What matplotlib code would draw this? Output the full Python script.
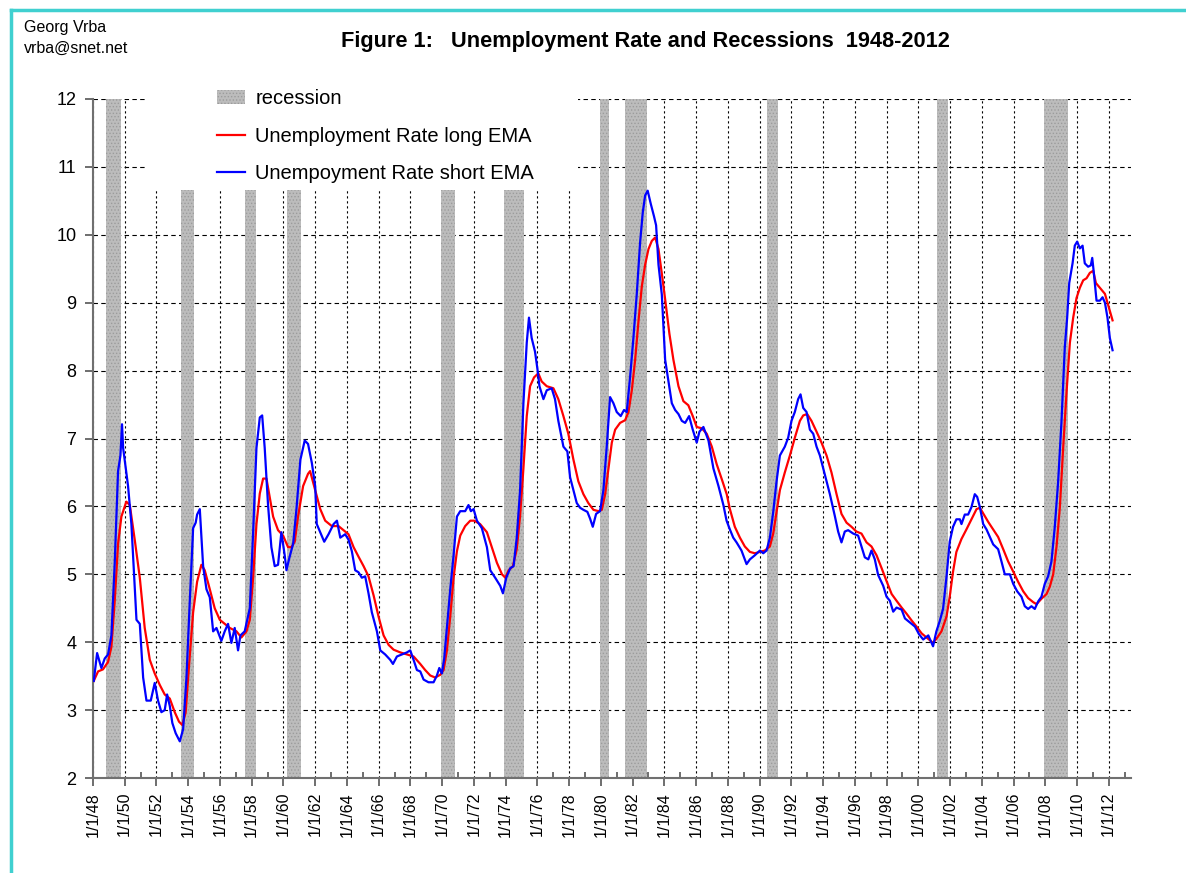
import matplotlib
matplotlib.use("Agg")
import matplotlib.pyplot as plt
from matplotlib.patches import Rectangle, Patch
from matplotlib.lines import Line2D

plt.rcParams['font.family'] = ['Liberation Sans', 'DejaVu Sans']
plt.rcParams['hatch.linewidth'] = 0.6

# recessions (decimal years)
rec_start = [1948.83, 1953.52, 1957.55, 1960.25, 1969.95, 1973.88, 1979.95, 1981.52, 1990.48, 2001.18, 2007.9]
rec_end = [1949.75, 1954.36, 1958.27, 1961.1, 1970.84, 1975.17, 1980.5, 1982.88, 1991.19, 2001.88, 2009.42]

# Unemployment rate short EMA (blue)
short_years = [
    1948.05, 1948.26, 1948.53, 1948.74, 1948.95, 1949.16, 1949.37, 1949.58, 1949.73, 1949.83,
    1949.9, 1950.21, 1950.42, 1950.74, 1950.95, 1951.16, 1951.37, 1951.64, 1951.89, 1952.1,
    1952.31, 1952.52, 1952.67, 1952.84, 1953.0, 1953.21, 1953.47, 1953.68, 1953.89, 1954.1,
    1954.31, 1954.47, 1954.56, 1954.73, 1954.94, 1955.15, 1955.36, 1955.57, 1955.78, 1956.09,
    1956.3, 1956.51, 1956.72, 1956.93, 1957.14, 1957.29, 1957.56, 1957.88, 1958.09, 1958.3,
    1958.51, 1958.66, 1958.82, 1959.03, 1959.24, 1959.45, 1959.66, 1959.87, 1960.08, 1960.19,
    1960.36, 1960.61, 1960.82, 1961.07, 1961.34, 1961.55, 1961.79, 1962.0, 1962.1, 1962.32,
    1962.57, 1962.84, 1963.16, 1963.37, 1963.58, 1963.89, 1964.1, 1964.31, 1964.52, 1964.73,
    1964.94, 1965.15, 1965.36, 1965.57, 1965.89, 1966.1, 1966.41, 1966.73, 1966.9, 1967.15,
    1967.46, 1967.78, 1967.99, 1968.2, 1968.41, 1968.62, 1968.83, 1969.14, 1969.46, 1969.67,
    1969.82, 1969.98, 1970.13, 1970.3, 1970.51, 1970.72, 1970.93, 1971.14, 1971.45, 1971.66,
    1971.81, 1971.98, 1972.19, 1972.5, 1972.82, 1973.03, 1973.34, 1973.66, 1973.83, 1974.04,
    1974.29, 1974.5, 1974.7, 1974.91, 1975.12, 1975.33, 1975.47, 1975.64, 1975.85, 1976.0,
    1976.13, 1976.38, 1976.59, 1976.9, 1977.11, 1977.32, 1977.64, 1977.89, 1978.06, 1978.27,
    1978.48, 1978.69, 1978.9, 1979.15, 1979.32, 1979.49, 1979.7, 1979.95, 1980.16, 1980.37,
    1980.58, 1980.79, 1981.0, 1981.25, 1981.46, 1981.63, 1981.84, 1982.05, 1982.26, 1982.47,
    1982.64, 1982.79, 1982.95, 1983.14, 1983.35, 1983.48, 1983.63, 1983.84, 1984.05, 1984.26,
    1984.47, 1984.68, 1984.89, 1985.1, 1985.31, 1985.56, 1985.79, 1986.04, 1986.21, 1986.46,
    1986.78, 1987.09, 1987.41, 1987.72, 1987.92, 1988.13, 1988.34, 1988.55, 1988.86, 1989.18,
    1989.39, 1989.7, 1990.02, 1990.23, 1990.44, 1990.65, 1990.86, 1991.07, 1991.28, 1991.59,
    1991.8, 1992.01, 1992.22, 1992.43, 1992.58, 1992.75, 1992.96, 1993.17, 1993.38, 1993.59,
    1993.8, 1994.01, 1994.22, 1994.43, 1994.74, 1994.95, 1995.16, 1995.37, 1995.58, 1995.9,
    1996.21, 1996.42, 1996.63, 1996.85, 1997.05, 1997.26, 1997.47, 1997.79, 1998.0, 1998.21,
    1998.42, 1998.63, 1998.95, 1999.16, 1999.47, 1999.79, 2000.04, 2000.31, 2000.63, 2000.93,
    2001.14, 2001.35, 2001.56, 2001.78, 2001.98, 2002.19, 2002.4, 2002.62, 2002.72, 2002.93,
    2003.14, 2003.35, 2003.56, 2003.71, 2003.88, 2004.09, 2004.3, 2004.51, 2004.72, 2005.03,
    2005.24, 2005.45, 2005.77, 2005.98, 2006.23, 2006.5, 2006.71, 2006.92, 2007.13, 2007.34,
    2007.55, 2007.76, 2007.97, 2008.18, 2008.39, 2008.6, 2008.81, 2009.02, 2009.23, 2009.38,
    2009.51, 2009.72, 2009.86, 2010.01, 2010.18, 2010.35, 2010.49, 2010.7, 2010.87, 2010.96,
    2011.06, 2011.23, 2011.44, 2011.61, 2011.76, 2011.92, 2012.07, 2012.24,
]
short_values = [
    3.43, 3.84, 3.62, 3.76, 3.82, 4.1, 5.17, 6.52, 6.75, 7.21,
    6.86, 6.3, 5.74, 4.33, 4.27, 3.48, 3.14, 3.14, 3.4, 3.14,
    2.97, 3.0, 3.23, 3.06, 2.81, 2.66, 2.54, 2.72, 3.48, 4.61,
    5.68, 5.76, 5.88, 5.96, 5.12, 4.78, 4.66, 4.16, 4.21, 4.02,
    4.16, 4.27, 3.99, 4.21, 3.88, 4.1, 4.16, 4.5, 5.62, 6.86,
    7.31, 7.34, 6.86, 6.02, 5.4, 5.12, 5.14, 5.62, 5.28, 5.06,
    5.23, 5.45, 5.96, 6.69, 6.97, 6.92, 6.64, 6.3, 5.74, 5.62,
    5.48, 5.59, 5.74, 5.79, 5.54, 5.59, 5.51, 5.34, 5.06, 5.03,
    4.95, 4.97, 4.72, 4.44, 4.16, 3.88, 3.82, 3.74, 3.68, 3.79,
    3.82, 3.85, 3.88, 3.74, 3.59, 3.57, 3.45, 3.41, 3.41, 3.51,
    3.62, 3.54, 3.76, 4.21, 4.78, 5.28, 5.85, 5.93, 5.93, 6.02,
    5.93, 5.96, 5.79, 5.68, 5.4, 5.06, 4.95, 4.83, 4.72, 4.95,
    5.09, 5.12, 5.54, 6.24, 7.52, 8.41, 8.78, 8.48, 8.28, 8.03,
    7.77, 7.58, 7.71, 7.74, 7.58, 7.26, 6.88, 6.81, 6.43, 6.24,
    6.05, 5.98, 5.95, 5.92, 5.82, 5.7, 5.89, 5.93, 6.24, 6.88,
    7.61, 7.52, 7.39, 7.33, 7.42, 7.39, 7.9, 8.48, 9.12, 9.88,
    10.33, 10.58, 10.65, 10.46, 10.27, 10.14, 9.56, 9.12, 8.16, 7.84,
    7.52, 7.42, 7.36, 7.26, 7.23, 7.33, 7.13, 6.94, 7.1, 7.17,
    6.97, 6.56, 6.3, 6.02, 5.79, 5.66, 5.54, 5.47, 5.35, 5.15,
    5.22, 5.28, 5.35, 5.31, 5.35, 5.54, 5.92, 6.37, 6.75, 6.88,
    7.01, 7.26, 7.39, 7.58, 7.65, 7.45, 7.39, 7.13, 7.07, 6.88,
    6.75, 6.56, 6.37, 6.18, 5.86, 5.63, 5.47, 5.63, 5.65, 5.6,
    5.57, 5.41, 5.25, 5.22, 5.35, 5.22, 4.99, 4.83, 4.67, 4.61,
    4.45, 4.51, 4.48, 4.35, 4.29, 4.23, 4.12, 4.04, 4.1, 3.94,
    4.16, 4.31, 4.49, 4.97, 5.48, 5.7, 5.81, 5.81, 5.74, 5.88,
    5.88, 5.99, 6.18, 6.14, 5.99, 5.74, 5.66, 5.55, 5.44, 5.37,
    5.19, 5.0, 5.0, 4.86, 4.75, 4.67, 4.53, 4.49, 4.53, 4.49,
    4.6, 4.67, 4.86, 4.97, 5.19, 5.7, 6.36, 7.24, 8.34, 8.78,
    9.29, 9.58, 9.84, 9.9, 9.8, 9.84, 9.58, 9.53, 9.55, 9.66,
    9.44, 9.03, 9.03, 9.08, 9.0, 8.78, 8.48, 8.3,
]

# Unemployment rate long EMA (red)
long_years = [
    1948.05, 1948.32, 1948.63, 1948.95, 1949.16, 1949.37, 1949.58, 1949.79, 1950.1, 1950.32,
    1950.63, 1950.95, 1951.26, 1951.58, 1951.89, 1952.21, 1952.52, 1952.84, 1953.15, 1953.42,
    1953.63, 1953.84, 1954.05, 1954.31, 1954.56, 1954.83, 1955.04, 1955.36, 1955.67, 1955.99,
    1956.3, 1956.62, 1957.04, 1957.35, 1957.67, 1957.88, 1958.09, 1958.3, 1958.51, 1958.72,
    1958.93, 1959.14, 1959.35, 1959.66, 1959.98, 1960.29, 1960.5, 1960.71, 1960.92, 1961.24,
    1961.55, 1961.68, 1962.0, 1962.32, 1962.63, 1963.05, 1963.47, 1963.79, 1964.1, 1964.42,
    1964.73, 1965.05, 1965.36, 1965.68, 1965.99, 1966.31, 1966.63, 1966.94, 1967.36, 1967.78,
    1968.2, 1968.62, 1968.93, 1969.25, 1969.56, 1969.88, 1970.09, 1970.3, 1970.51, 1970.72,
    1970.93, 1971.14, 1971.45, 1971.77, 1972.02, 1972.39, 1972.82, 1973.13, 1973.45, 1973.77,
    1973.98, 1974.19, 1974.46, 1974.7, 1974.91, 1975.12, 1975.33, 1975.54, 1975.79, 1976.06,
    1976.27, 1976.59, 1977.01, 1977.32, 1977.64, 1977.95, 1978.27, 1978.58, 1978.9, 1979.21,
    1979.53, 1979.85, 1980.06, 1980.27, 1980.48, 1980.69, 1980.9, 1981.21, 1981.53, 1981.74,
    1981.95, 1982.16, 1982.37, 1982.58, 1982.79, 1983.0, 1983.21, 1983.42, 1983.63, 1983.84,
    1984.05, 1984.32, 1984.57, 1984.89, 1985.2, 1985.51, 1985.79, 1986.04, 1986.36, 1986.67,
    1986.99, 1987.3, 1987.62, 1987.93, 1988.13, 1988.44, 1988.76, 1989.07, 1989.39, 1989.7,
    1990.02, 1990.33, 1990.65, 1990.86, 1991.07, 1991.28, 1991.59, 1991.91, 1992.22, 1992.54,
    1992.75, 1993.0, 1993.27, 1993.59, 1993.9, 1994.22, 1994.53, 1994.85, 1995.16, 1995.48,
    1995.79, 1996.1, 1996.42, 1996.74, 1997.05, 1997.37, 1997.69, 1998.0, 1998.32, 1998.63,
    1998.95, 1999.26, 1999.58, 1999.89, 2000.21, 2000.52, 2000.93, 2001.14, 2001.46, 2001.78,
    2001.98, 2002.19, 2002.4, 2002.72, 2003.03, 2003.35, 2003.67, 2003.88, 2004.13, 2004.41,
    2004.72, 2005.03, 2005.35, 2005.66, 2005.98, 2006.29, 2006.61, 2006.92, 2007.24, 2007.45,
    2007.76, 2008.08, 2008.29, 2008.5, 2008.71, 2008.92, 2009.13, 2009.34, 2009.55, 2009.76,
    2009.97, 2010.18, 2010.39, 2010.6, 2010.81, 2011.02, 2011.19, 2011.44, 2011.76, 2011.97,
    2012.24,
]
long_values = [
    3.43, 3.57, 3.6, 3.71, 3.93, 4.61, 5.45, 5.85, 6.07, 6.02,
    5.51, 4.95, 4.21, 3.74, 3.54, 3.37, 3.23, 3.17, 2.97, 2.83,
    2.78, 2.97, 3.65, 4.44, 4.89, 5.14, 5.06, 4.78, 4.5, 4.33,
    4.27, 4.21, 4.16, 4.07, 4.16, 4.33, 4.95, 5.74, 6.19, 6.41,
    6.41, 6.13, 5.85, 5.65, 5.57, 5.4, 5.4, 5.48, 5.85, 6.3,
    6.48, 6.52, 6.24, 5.96, 5.79, 5.71, 5.71, 5.65, 5.59, 5.4,
    5.26, 5.12, 4.97, 4.69, 4.38, 4.1, 3.96, 3.89, 3.85, 3.82,
    3.79, 3.68, 3.59, 3.51, 3.48, 3.52, 3.59, 3.88, 4.38, 4.95,
    5.34, 5.57, 5.71, 5.79, 5.79, 5.74, 5.62, 5.4, 5.17, 5.0,
    4.95, 5.06, 5.12, 5.37, 5.86, 6.56, 7.33, 7.77, 7.9, 7.96,
    7.84, 7.77, 7.74, 7.58, 7.33, 7.07, 6.69, 6.37, 6.18, 6.05,
    5.95, 5.93, 5.95, 6.18, 6.56, 6.94, 7.13, 7.23, 7.27, 7.39,
    7.71, 8.16, 8.73, 9.24, 9.56, 9.79, 9.91, 9.96, 9.79, 9.43,
    9.05, 8.54, 8.16, 7.77, 7.55, 7.49, 7.33, 7.17, 7.15, 7.07,
    6.88, 6.62, 6.4, 6.18, 5.96, 5.7, 5.54, 5.41, 5.33, 5.31,
    5.33, 5.35, 5.41, 5.6, 5.92, 6.24, 6.5, 6.75, 7.01, 7.26,
    7.34, 7.36, 7.26, 7.1, 6.94, 6.75, 6.5, 6.18, 5.89, 5.76,
    5.7, 5.63, 5.6, 5.47, 5.41, 5.28, 5.09, 4.9, 4.71, 4.61,
    4.51, 4.42, 4.32, 4.23, 4.13, 4.07, 3.99, 4.05, 4.16, 4.38,
    4.67, 5.04, 5.33, 5.52, 5.66, 5.81, 5.96, 5.98, 5.88, 5.77,
    5.66, 5.55, 5.37, 5.19, 5.04, 4.89, 4.75, 4.65, 4.59, 4.56,
    4.64, 4.71, 4.82, 5.0, 5.41, 5.99, 6.87, 7.68, 8.41, 8.78,
    9.07, 9.22, 9.33, 9.36, 9.44, 9.47, 9.29, 9.22, 9.13, 8.96,
    8.74,
]

major_years = list(range(1948, 2013, 2))
minor_years = list(range(1949, 2014, 2))
y_ticks = list(range(2, 13))

fig = plt.figure(figsize=(11.86, 8.73), dpi=100)
ax = fig.add_axes([0.0784, 0.1088, 0.8752, 0.7778])

rec_color = '#bcbcbc'
for s, e in zip(rec_start, rec_end):
    ax.axvspan(s, e, facecolor=rec_color, edgecolor='#9c9c9c', hatch='.....',
               linewidth=0, zorder=1)

ax.plot(long_years, long_values, color='#ff0000', lw=1.6, zorder=3)
ax.plot(short_years, short_values, color='#0000ff', lw=1.6, zorder=4)

ax.set_xlim(1948, 2013.4)
ax.set_ylim(2, 12)
ax.set_xticks(major_years)
ax.set_xticklabels([f"1/1/{y % 100:02d}" for y in major_years], rotation=90, fontsize=11.5)
ax.set_xticks(minor_years, minor=True)
ax.set_yticks(y_ticks)
ax.set_yticklabels([str(v) for v in y_ticks], fontsize=13)

ax.tick_params(axis='x', which='major', direction='out', length=6, width=1.2, color='#555555', pad=4)
ax.tick_params(axis='x', which='minor', direction='in', length=4, width=1.2, color='#555555')
ax.tick_params(axis='y', direction='out', length=6, width=1.2, color='#555555', pad=6)

ax.set_axisbelow(True)
ax.yaxis.grid(True, color='black', linestyle=(0, (4, 3)), linewidth=0.8, zorder=0)
ax.xaxis.grid(True, which='major', color='black', linestyle=(0, (2, 2.5)), linewidth=0.8, zorder=0)

for side in ['top', 'right']:
    ax.spines[side].set_visible(False)
for side in ['left', 'bottom']:
    ax.spines[side].set_color('#707070')
    ax.spines[side].set_linewidth(1.5)

# white box behind the legend (covers grid and bars)
ax.add_patch(Rectangle((0.051, 0.866), 0.416, 0.16, transform=ax.transAxes,
                       facecolor='white', edgecolor='none', zorder=5, clip_on=False))

handles = [
    Patch(facecolor=rec_color, edgecolor='#9c9c9c', hatch='.....', linewidth=0),
    Line2D([], [], color='#ff0000', lw=1.6),
    Line2D([], [], color='#0000ff', lw=1.6),
]
labels = ['recession', 'Unemployment Rate long EMA', 'Unempoyment Rate short EMA']
leg = ax.legend(handles, labels, loc='upper left', bbox_to_anchor=(0.1195, 1.014),
                frameon=False, fontsize=14.5, handlelength=1.4, handletextpad=0.5,
                labelspacing=0.9, borderpad=0, borderaxespad=0)
leg.set_zorder(6)

fig.text(0.544, 0.952, 'Figure 1:   Unemployment Rate and Recessions  1948-2012',
         ha='center', va='center', fontsize=15.7, fontweight='bold')
fig.text(0.0205, 0.969, 'Georg Vrba', ha='left', va='center', fontsize=11.5)
fig.text(0.0205, 0.945, 'vrba@snet.net', ha='left', va='center', fontsize=11.5)

# turquoise frame on top and left
border = '#40d0d0'
fig.add_artist(Line2D([0.0093, 1.0], [0.9885, 0.9885], color=border, lw=2.5, transform=fig.transFigure))
fig.add_artist(Line2D([0.0093, 0.0093], [0.0, 0.9885], color=border, lw=2.5, transform=fig.transFigure))

fig.savefig('out.png', dpi=100)
